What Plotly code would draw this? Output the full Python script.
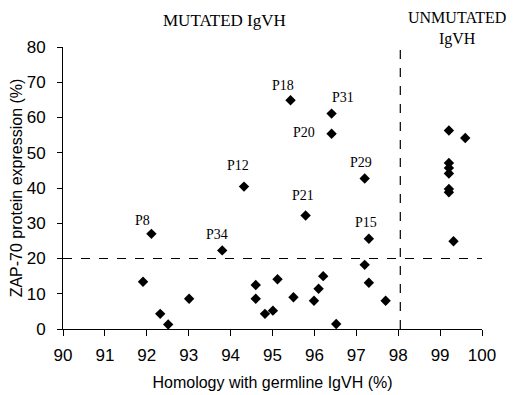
import plotly.graph_objects as go

# Mutated IgVH, labelled patients
lab_names = ["P8", "P34", "P12", "P18", "P31", "P20", "P29", "P21", "P15"]
lab_x = [92.11, 93.80, 94.32, 95.43, 96.41, 96.41, 97.20, 95.79, 97.30]
lab_y = [27.0, 22.3, 40.4, 64.9, 61.1, 55.4, 42.7, 32.2, 25.6]

# Mutated IgVH, unlabelled
mut_x = [91.91, 92.32, 92.51, 93.01, 94.60, 94.60, 94.82, 95.01, 95.12, 95.50,
         95.99, 96.10, 96.21, 96.52, 97.20, 97.30, 97.70]
mut_y = [13.4, 4.3, 1.3, 8.6, 12.5, 8.6, 4.3, 5.2, 14.1, 9.0,
         8.0, 11.4, 15.0, 1.4, 18.2, 13.1, 8.0]

# Unmutated IgVH
unm_x = [99.21, 99.60, 99.21, 99.21, 99.21, 99.21, 99.21, 99.32]
unm_y = [56.3, 54.2, 47.1, 45.7, 44.1, 39.7, 38.8, 24.9]

x_ticks = [90, 91, 92, 93, 94, 95, 96, 97, 98, 99, 100]
y_ticks = [0, 10, 20, 30, 40, 50, 60, 70, 80]
x_cut = 98.05
y_cut = 20

label_shift = {"P8": (-9, 13), "P34": (-5, 16), "P12": (-6, 21), "P18": (-8, 15),
               "P31": (11, 16), "P20": (-28, 1), "P29": (-4, 16), "P21": (-3, 20),
               "P15": (-3, 16)}

all_x = lab_x + mut_x + unm_x
all_y = lab_y + mut_y + unm_y

# page body has an 8px default margin
OFF = 8
W, H = 520 - OFF, 395 - OFF
L, R, T, B = 63 - OFF, 38, 47 - OFF, 66
PW, PH = W - L - R, H - T - B

fig = go.Figure()
fig.add_trace(go.Scatter(x=all_x, y=all_y, mode="markers",
                         marker=dict(symbol="diamond", size=8, color="black"),
                         showlegend=False, hoverinfo="skip"))

fig.add_shape(type="line", x0=90, x1=100, y0=y_cut, y1=y_cut, xref="x", yref="y",
              line=dict(color="black", width=1.2, dash="dash"))
fig.add_shape(type="line", x0=x_cut, x1=x_cut, y0=0, y1=80, xref="x", yref="y",
              line=dict(color="black", width=1.2, dash="dash"))

serif = "Liberation Serif"
for n, x, y in zip(lab_names, lab_x, lab_y):
    dx, dy = label_shift[n]
    fig.add_annotation(x=x, y=y, text=n, showarrow=False, xshift=dx, yshift=dy,
                       xanchor="center", yanchor="middle",
                       font=dict(family=serif, size=14, color="black"))

top_y = 1 + T / PH
fig.add_annotation(text="MUTATED IgVH", xref="paper", yref="paper",
                   x=(224 - 63) / PW, y=top_y, yshift=-1,
                   xanchor="center", yanchor="top", showarrow=False,
                   font=dict(family=serif, size=17, color="black"))
fig.add_annotation(text="UNMUTATED<br>IgVH", xref="paper", yref="paper",
                   x=(457 - 63) / PW, y=top_y, yshift=1,
                   xanchor="center", yanchor="top", showarrow=False,
                   font=dict(family=serif, size=16, color="black"))

fig.update_layout(
    width=W, height=H,
    margin=dict(l=L, r=R, t=T, b=B),
    plot_bgcolor="white", paper_bgcolor="white",
    font=dict(family="Liberation Sans", size=17, color="black"),
    xaxis=dict(range=[90, 100], tickvals=x_ticks, showline=True, linecolor="black",
               linewidth=1, ticks="outside", ticklen=6, tickcolor="black",
               showgrid=False, zeroline=False, ticklabelstandoff=5, automargin=False,
               title=dict(text="Homology with germline IgVH (%)", standoff=12,
                          font=dict(size=16))),
    yaxis=dict(range=[0, 80], tickvals=y_ticks, showline=True, linecolor="black",
               linewidth=1, ticks="outside", ticklen=5, tickcolor="black",
               showgrid=False, zeroline=False, ticklabelstandoff=8, automargin=False,
               title=dict(text="ZAP-70 protein expression (%)", standoff=5,
                          font=dict(size=16))),
)

fig.write_html("out.html")
